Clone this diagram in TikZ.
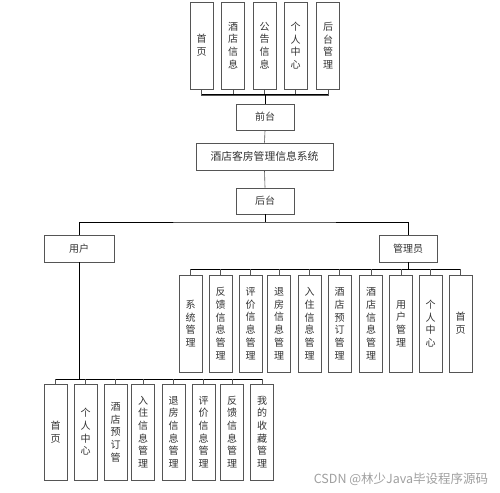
\documentclass[tikz,border=0pt]{standalone}
\usepackage{fontspec}
\newfontfamily\cjk{Noto Sans CJK SC}
\definecolor{boxline}{HTML}{555555}
\definecolor{txt}{HTML}{333333}
\definecolor{wm}{HTML}{A0A0A0}
\begin{document}
\begin{tikzpicture}[x=1pt,y=-1pt,
  box/.style={draw=boxline,line width=0.9pt,fill=white,inner sep=0pt,text=txt,font=\cjk\fontsize{10}{12.7}\selectfont,align=center},
  vbox/.style={box,minimum width=23pt},
  hbox/.style={box,minimum height=26pt},
  trunk/.style={line width=1pt,black},
  branch/.style={line width=0.6pt,boxline}]
\useasboundingbox[fill=white] (0,0) rectangle (500,492);
% top level
\node[vbox,minimum height=87pt] (t1) at (201.5,45.5) {首\\页};
\node[vbox,minimum height=87pt] (t2) at (233,45.5) {酒\\店\\信\\息};
\node[vbox,minimum height=87pt] (t3) at (264.5,45.5) {公\\告\\信\\息};
\node[vbox,minimum height=87pt] (t4) at (295.5,45.5) {个\\人\\中\\心};
\node[vbox,minimum height=87pt] (t5) at (328,45.5) {后\\台\\管\\理};
\node[hbox,minimum width=58pt] (qt) at (265,117) {前台};
\node[hbox,minimum width=137pt,minimum height=27pt,font=\cjk\fontsize{10.8}{13}\selectfont] (sys) at (264.5,156.5) {酒店客房管理信息系统};
\node[hbox,minimum width=58pt] (ht) at (265,201) {后台};
\node[hbox,minimum width=70pt,minimum height=27pt] (user) at (79,248.5) {用户};
\node[hbox,minimum width=58pt,minimum height=27pt] (admin) at (408,248.5) {管理员};
% admin children
\foreach \n/\x/\t in {a1/190.5/系\\统\\管\\理, a2/220.5/反\\馈\\信\\息\\管\\理, a3/250.5/评\\价\\信\\息\\管\\理,
  a4/279/退\\房\\信\\息\\管\\理, a5/309.5/入\\住\\信\\息\\管\\理, a6/339.5/酒\\店\\预\\订\\管\\理,
  a7/371/酒\\店\\信\\息\\管\\理, a8/401/用\\户\\管\\理, a9/430.5/个\\人\\中\\心, a10/460.5/首\\页}
  {\node[vbox,minimum height=97pt] (\n) at (\x,323.5) {\t};}
% user children
\foreach \n/\x/\t in {u1/55.5/首\\页, u2/85.5/个\\人\\中\\心, u3/115.5/酒\\店\\预\\订\\管, u4/143/入\\住\\信\\息\\管\\理,
  u5/173.5/退\\房\\信\\息\\管\\理, u6/203.5/评\\价\\信\\息\\管\\理, u7/232/反\\馈\\信\\息\\管\\理, u8/262/我\\的\\收\\藏\\管\\理}
  {\node[vbox,minimum height=96pt] (\n) at (\x,432) {\t};}
% coordinates for buses
\coordinate (tb) at (265,95);
\coordinate (mb) at (265,222);
\coordinate (ab) at (408,269);
\coordinate (ub) at (79,379);
% top bus
\draw[branch] (t1.south) |- (tb);
\draw[branch] (t5.south) |- (tb);
\foreach \n in {t2,t3,t4} \draw[branch] (\n.south) -- (\n.south |- tb);
\draw[trunk] (t1.south |- tb) -- (t5.south |- tb);
\draw[trunk] (tb) -- (qt.north);
\draw[branch] (qt.south) -- (sys.north);
\draw[branch] (sys.south) -- (ht.north);
% main bus
\draw[trunk] (ht.south) -- (mb);
\draw[trunk] (user.north) |- (mb) -| (admin.north);
% admin bus
\draw[trunk] (admin.south) -- (ab);
\draw[trunk] (a1.north |- ab) -- (a10.north |- ab);
\foreach \n in {a1,a2,a3,a4,a5,a6,a7,a8,a9,a10} \draw[branch] (\n.north |- ab) -- (\n.north);
% user bus
\draw[trunk] (user.south) -- (ub);
\draw[trunk] (u1.north |- ub) -- (u8.north |- ub);
\foreach \n in {u1,u2,u3,u4,u5,u6,u7,u8} \draw[branch] (\n.north |- ub) -- (\n.north);
% watermark
\node[text=wm,font=\cjk\fontsize{12.5}{14}\selectfont,inner sep=0pt] (wmk) at (401,479) {CSDN @林少Java毕设程序源码};
\end{tikzpicture}
\end{document}
